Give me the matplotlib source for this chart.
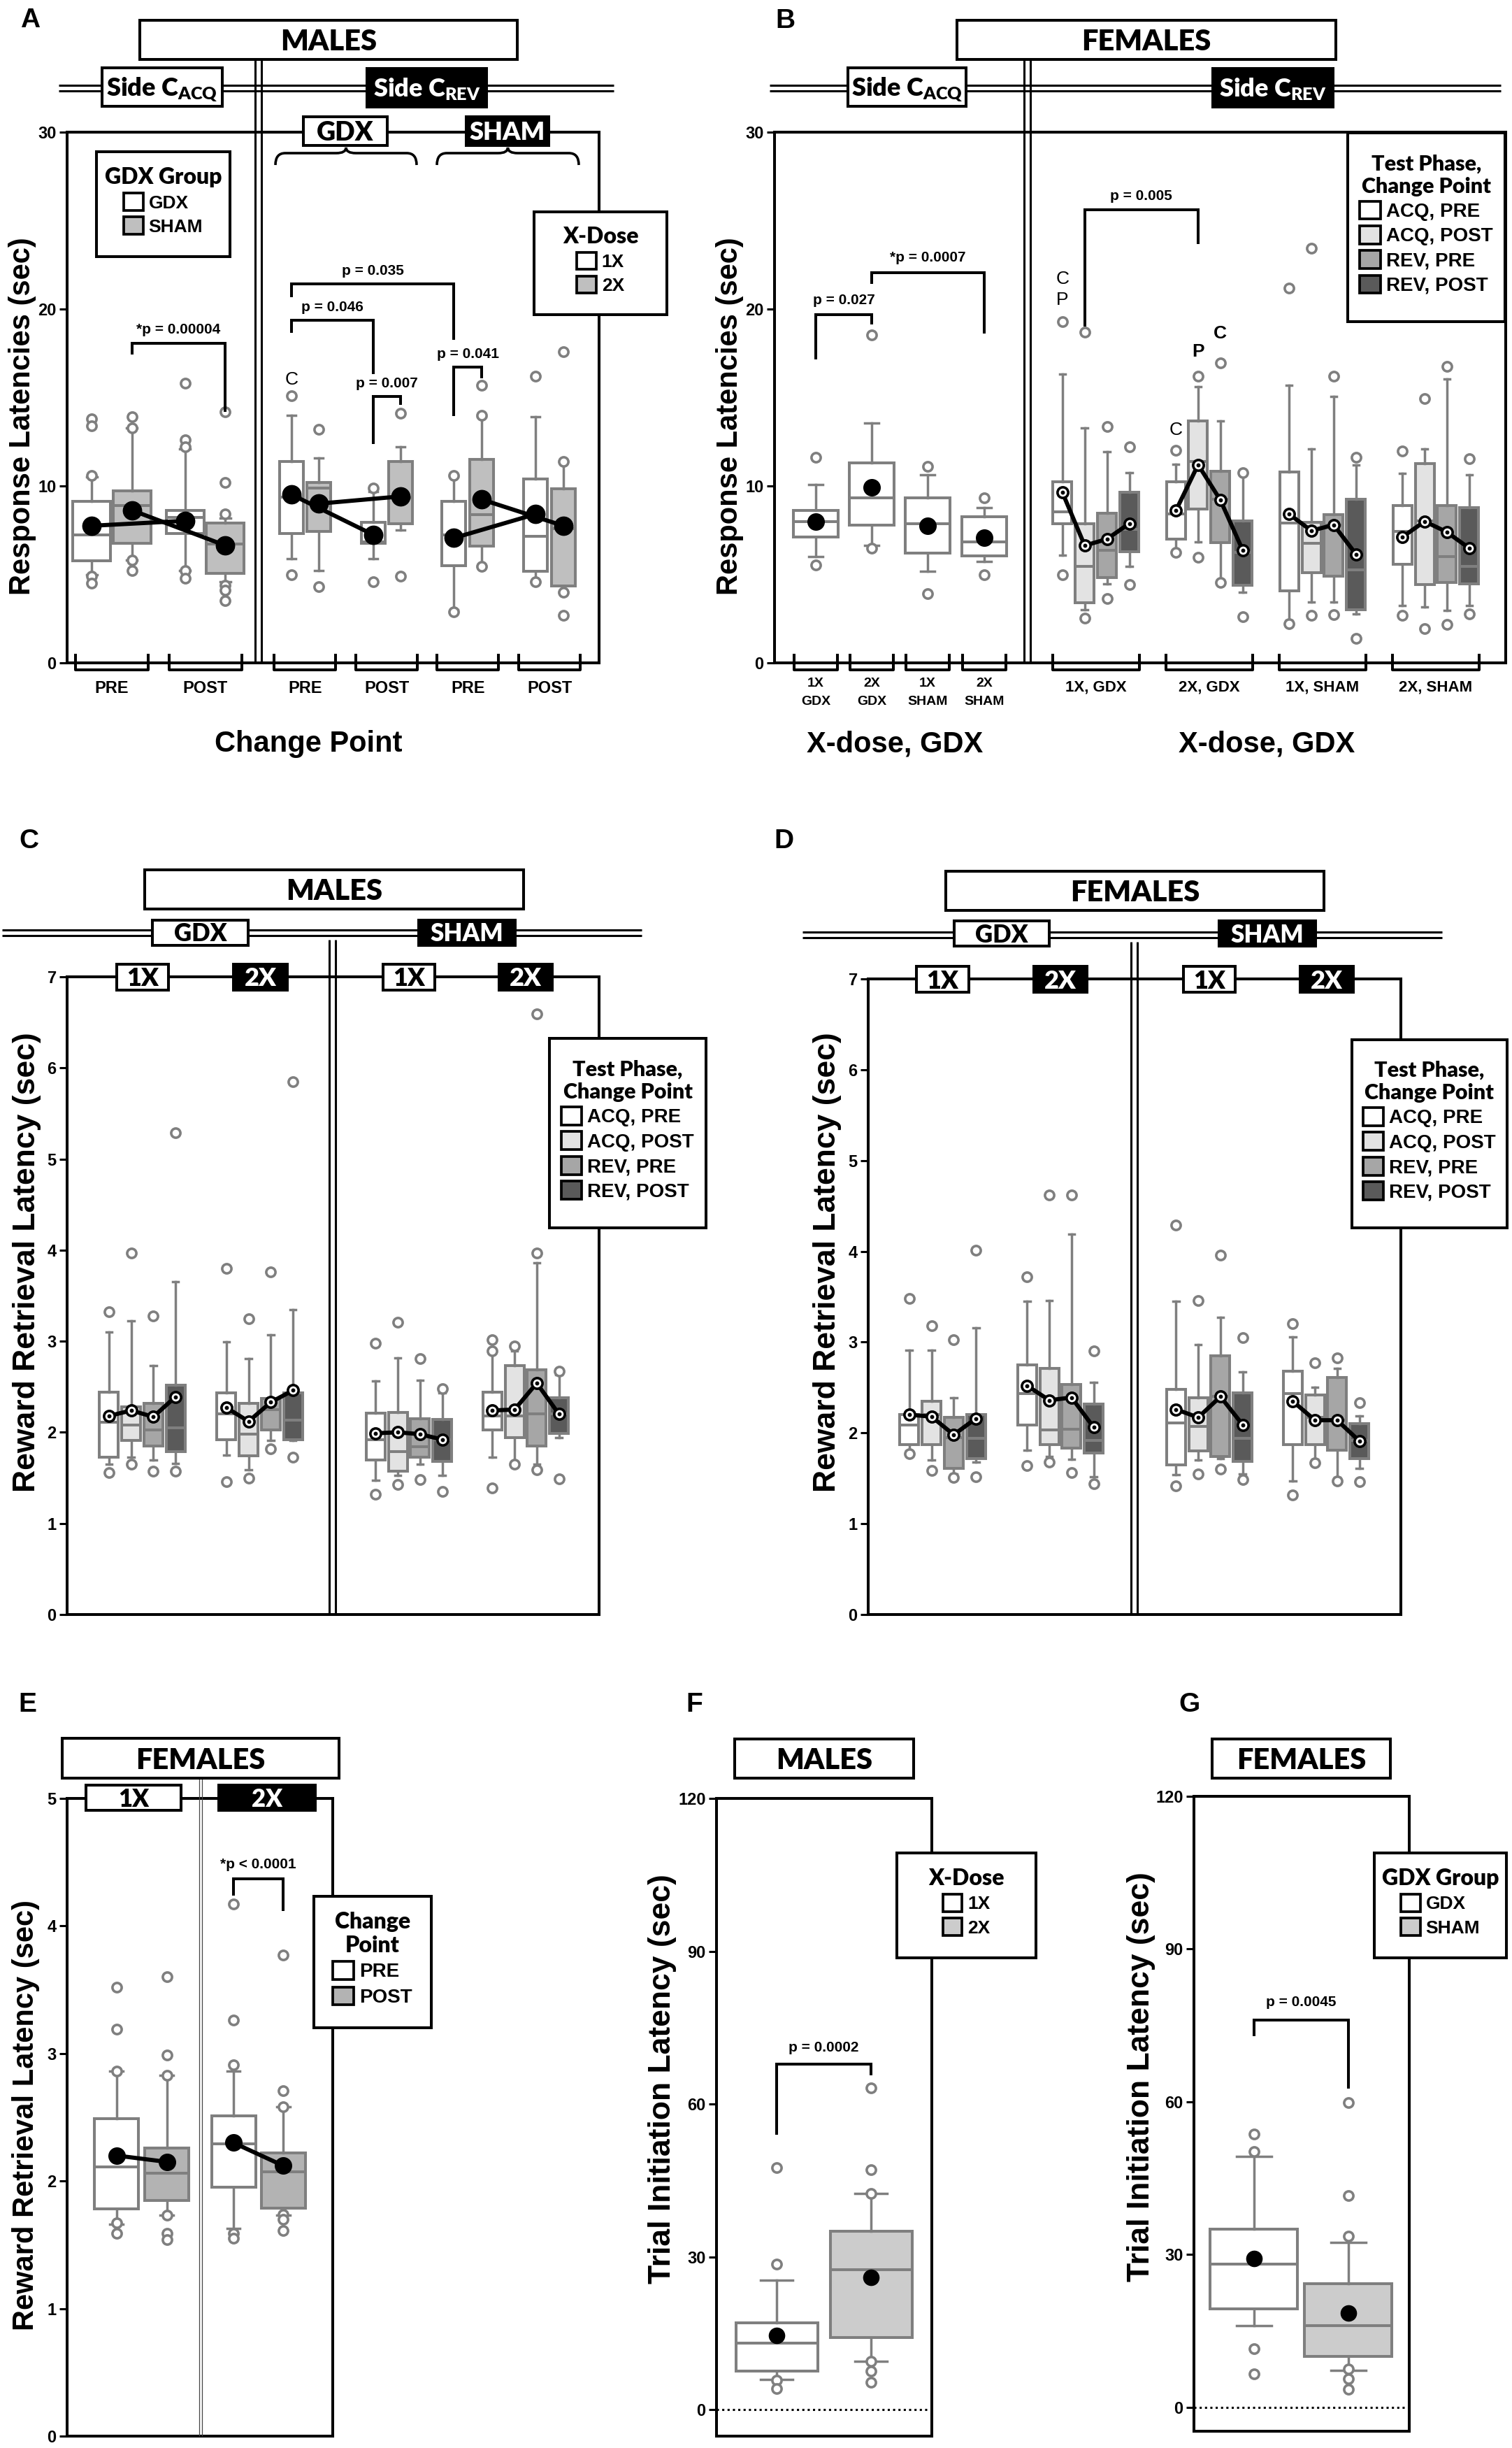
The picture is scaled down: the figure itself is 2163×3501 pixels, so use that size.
import matplotlib
matplotlib.use("Agg")
import matplotlib.pyplot as plt
from matplotlib.patches import Rectangle, Patch, PathPatch
from matplotlib.path import Path
from matplotlib.legend import Legend
from matplotlib.font_manager import FontProperties

W, H = 2163, 3501
plt.rcParams['font.family'] = ['Liberation Sans', 'DejaVu Sans']
plt.rcParams['font.weight'] = 'bold'
plt.rcParams['mathtext.default'] = 'regular'

# ======================= DATA =======================
# Panel A  (MALES, response latencies)  order: ACQ[GDX PRE, SHAM PRE, GDX POST, SHAM POST],
# REV[GDX: PRE 1X, PRE 2X, POST 1X, POST 2X ; SHAM: PRE 1X, PRE 2X, POST 1X, POST 2X]
A_q1 = [5.78, 6.75, 7.31, 5.04, 7.33, 7.42, 6.75, 7.86, 5.51, 6.62, 5.18, 4.35]
A_med = [7.25, 8.91, 8.22, 6.70, 9.38, 9.88, 6.84, 9.33, 7.25, 8.36, 7.17, 7.58]
A_q3 = [9.13, 9.74, 8.63, 7.92, 11.40, 10.21, 7.94, 11.40, 9.13, 11.49, 10.38, 9.83]
A_lo = [5.0, 5.8, 5.2, 4.6, 5.9, 5.2, 5.9, 7.5, 3.0, 5.45, 4.6, 4.0]
A_hi = [10.5, 13.3, 12.1, 8.2, 14.0, 11.6, 9.7, 12.2, 10.5, 13.9, 13.9, 11.4]
A_out = [[13.8, 13.4, 10.6, 4.9, 4.5], [13.9, 13.3, 5.8, 5.2], [15.8, 12.6, 12.2, 5.2, 4.8],
         [14.2, 10.2, 8.4, 4.4, 4.1, 3.5], [15.1, 5.0], [13.2, 4.3], [9.9, 4.6], [14.1, 4.9],
         [10.6, 2.9], [15.7, 14.0, 5.45], [16.2, 4.6], [17.6, 11.4, 4.0, 2.7]]
A_mean = [7.75, 8.63, 8.03, 6.64, 9.52, 9.00, 7.25, 9.41, 7.06, 9.24, 8.41, 7.75]
A_xlabels = ['PRE', 'POST', 'PRE', 'POST', 'PRE', 'POST']
A_sig = [(1, 3, 18.05, 17.44, 14.17, '*p = 0.00004', 18.85),
         (4, 8, 21.42, 20.67, 18.27, 'p = 0.035', 22.15),
         (4, 6, 19.35, 18.65, 16.33, 'p = 0.046', 20.10),
         (6, 7, 15.06, 12.37, 14.59, 'p = 0.007', 15.80),
         (8, 9, 16.72, 13.95, 16.10, 'p = 0.041', 17.45)]

# Panel B (FEMALES, response latencies): ACQ[1X GDX, 2X GDX, 1X SHAM, 2X SHAM],
# REV groups [1X GDX, 2X GDX, 1X SHAM, 2X SHAM] x phases [ACQ PRE, ACQ POST, REV PRE, REV POST]
B_q1 = [7.11, 7.80, 6.20, 6.06, 7.88, 3.41, 4.83, 6.30, 6.99, 8.69, 6.79, 4.39,
        4.07, 5.09, 4.90, 3.02, 5.59, 4.43, 4.54, 4.48]
B_med = [8.00, 9.33, 7.86, 6.84, 8.54, 5.45, 6.37, 7.55, 8.41, 11.37, 9.26, 6.24,
         7.90, 6.75, 7.80, 5.26, 7.44, 8.03, 6.00, 5.45]
B_q3 = [8.63, 11.32, 9.33, 8.28, 10.25, 7.88, 8.45, 9.63, 10.25, 13.66, 10.84, 8.01,
        10.79, 7.94, 8.36, 9.24, 8.91, 11.27, 8.91, 8.77]
B_lo = [6.00, 6.64, 5.18, 5.73, 6.10, 3.01, 4.46, 5.45, 6.37, 6.83, 4.72, 4.00,
        2.40, 3.43, 3.43, 2.77, 3.24, 3.16, 2.96, 3.24]
B_hi = [10.07, 13.56, 10.63, 8.77, 16.33, 13.28, 11.92, 10.74, 11.24, 15.60, 13.67, 10.71,
        15.69, 12.09, 15.06, 11.18, 10.71, 12.09, 16.05, 10.63]
B_out = [[11.62, 5.54], [18.52, 6.48], [11.10, 3.93], [9.33, 4.98],
         [19.29, 4.99], [18.68, 2.53], [13.37, 3.63], [12.23, 4.42],
         [12.00, 6.24], [16.20, 5.95], [16.94, 4.55], [10.76, 2.62],
         [21.18, 2.21], [23.44, 2.68], [16.20, 2.74], [11.62, 1.38],
         [11.96, 2.68], [14.95, 1.94], [16.75, 2.19], [11.54, 2.77]]
B_mean = [8.00, 9.94, 7.75, 7.06, 9.63, 6.63, 7.00, 7.88, 8.60, 11.20, 9.20, 6.37,
          8.41, 7.47, 7.80, 6.14, 7.11, 8.00, 7.39, 6.48]
B_left_labels = [('1X', 'GDX'), ('2X', 'GDX'), ('1X', 'SHAM'), ('2X', 'SHAM')]
B_right_labels = ['1X, GDX', '2X, GDX', '1X, SHAM', '2X, SHAM']
B_sig = [(0, 1, 19.70, 17.16, 19.15, 'p = 0.027', 20.50),
         (1, 3, 22.06, 21.42, 18.60, '*p = 0.0007', 22.90),
         (5, 9, 25.60, 19.00, 23.67, 'p = 0.005', 26.40)]
B_marks = [(4, 21.7, 'C', 'normal'), (4, 20.5, 'P', 'normal'), (8, 13.15, 'C', 'normal'),
           (9, 17.6, 'P', 'bold'), (10, 18.6, 'C', 'bold')]

# Panel C (MALES, reward retrieval): groups [GDX 1X, GDX 2X, SHAM 1X, SHAM 2X] x 4 phases
C_q1 = [1.73, 1.91, 1.85, 1.79, 1.92, 1.74, 2.03, 1.92, 1.70, 1.57, 1.73, 1.68, 2.03, 1.94, 1.85, 1.99]
C_med = [2.11, 2.08, 2.03, 2.05, 2.20, 1.98, 2.25, 2.13, 1.92, 1.79, 1.84, 1.92, 2.18, 2.18, 2.20, 2.20]
C_q3 = [2.44, 2.28, 2.32, 2.52, 2.43, 2.32, 2.37, 2.43, 2.21, 2.22, 2.15, 2.14, 2.44, 2.73, 2.69, 2.38]
C_lo = [1.65, 1.73, 1.70, 1.66, 1.75, 1.59, 1.91, 1.91, 1.47, 1.53, 1.65, 1.53, 1.73, 1.68, 1.65, 1.94]
C_hi = [3.10, 3.22, 2.73, 3.65, 2.99, 2.81, 3.07, 3.35, 2.56, 2.82, 2.57, 2.43, 2.89, 2.89, 3.86, 2.63]
C_out = [[3.32, 1.56], [3.97, 1.65], [3.28, 1.57], [5.29, 1.57],
         [3.80, 1.46], [3.25, 1.50], [3.76, 1.82], [5.85, 1.73],
         [2.98, 1.32], [3.21, 1.43], [2.81, 1.48], [2.48, 1.35],
         [3.02, 2.89, 1.39], [2.95, 1.65], [6.59, 3.97, 1.59], [2.67, 1.49]]
C_mean = [2.18, 2.24, 2.17, 2.39, 2.27, 2.12, 2.33, 2.46, 1.99, 2.00, 1.98, 1.92, 2.24, 2.25, 2.54, 2.20]

# Panel D (FEMALES, reward retrieval)
D_q1 = [1.87, 1.87, 1.61, 1.72, 2.09, 1.87, 1.83, 1.78, 1.65, 1.80, 1.74, 1.69, 1.87, 1.87, 1.81, 1.72]
D_med = [2.09, 2.20, 1.95, 1.94, 2.43, 2.03, 2.04, 1.92, 2.11, 2.07, 2.40, 1.94, 2.43, 2.17, 2.14, 1.92]
D_q3 = [2.20, 2.35, 2.17, 2.20, 2.75, 2.71, 2.53, 2.32, 2.48, 2.39, 2.85, 2.44, 2.68, 2.42, 2.61, 2.10]
D_lo = [1.80, 1.70, 1.55, 1.68, 1.81, 1.74, 1.71, 1.52, 1.54, 1.70, 1.72, 1.55, 1.47, 1.71, 1.51, 1.61]
D_hi = [2.91, 2.91, 2.39, 3.16, 3.45, 3.46, 4.19, 2.56, 3.45, 2.97, 3.27, 2.67, 3.06, 2.50, 2.71, 2.19]
D_out = [[3.48, 1.77], [3.18, 1.59], [3.03, 1.51], [4.01, 1.52],
         [3.72, 1.64], [4.62, 1.68], [4.62, 1.56], [2.90, 1.44],
         [4.29, 1.42], [3.46, 1.55], [3.96, 1.60], [3.05, 1.49],
         [3.20, 1.32], [2.77, 1.67], [2.83, 1.47], [2.33, 1.46]]
D_mean = [2.20, 2.18, 1.98, 2.16, 2.52, 2.36, 2.39, 2.06, 2.26, 2.17, 2.40, 2.09, 2.35, 2.14, 2.14, 1.91]

# Panel E (FEMALES, reward retrieval by change point): [1X PRE, 1X POST, 2X PRE, 2X POST]
E_q1 = [1.78, 1.85, 1.95, 1.79]
E_med = [2.11, 2.06, 2.29, 2.07]
E_q3 = [2.49, 2.26, 2.51, 2.22]
E_lo = [1.66, 1.73, 1.63, 1.73]
E_hi = [2.86, 2.83, 2.86, 2.58]
E_out = [[3.52, 3.19, 2.86, 1.67, 1.59], [3.60, 2.99, 2.83, 1.73, 1.59, 1.54],
         [4.17, 3.26, 2.91, 1.59, 1.55], [3.77, 2.71, 2.58, 1.74, 1.70, 1.61]]
E_mean = [2.20, 2.15, 2.30, 2.12]
E_sig = [(2, 3, 4.37, 4.24, 4.12, '*p < 0.0001', 4.48)]

# Panel F (MALES, trial initiation): [1X, 2X]
F_q1 = [7.55, 14.2]
F_med = [13.1, 27.45]
F_q3 = [17.06, 35.0]
F_lo = [5.9, 9.5]
F_hi = [25.4, 42.5]
F_out = [[47.5, 28.6, 5.8, 4.1], [63.1, 47.1, 42.5, 9.5, 7.55, 5.4]]
F_mean = [14.6, 25.9]
F_sig = [(0, 1, 67.8, 53.9, 65.7, 'p = 0.0002', 71.0)]

# Panel G (FEMALES, trial initiation): [GDX, SHAM]
G_q1 = [19.35, 10.0]
G_med = [28.2, 16.1]
G_q3 = [35.07, 24.26]
G_lo = [16.1, 7.27]
G_hi = [49.3, 32.4]
G_out = [[53.7, 50.3, 11.5, 6.6], [59.9, 41.6, 33.6, 7.6, 5.6, 3.6]]
G_mean = [29.2, 18.57]
G_sig = [(0, 1, 76.1, 72.9, 62.6, 'p = 0.0045', 79.5)]

PHASE_LABELS = ['ACQ, PRE', 'ACQ, POST', 'REV, PRE', 'REV, POST']

# ======================= STYLE =======================
EDGE = '#7f7f7f'
WHITE = 'white'
GRAY_A = '#bfbfbf'
GRAY_E = '#b3b3b3'
GRAY_FG = '#cccccc'
PHASE_FACES = ['white', '#e3e3e3', '#a6a6a6', '#5a5a5a']
CAL = 'Lato'
CAL_W = 'heavy'
ARI = 'Liberation Sans'
LW = 2.9

fig = plt.figure(figsize=(W / 100, H / 100), dpi=100)
ov = fig.add_axes([0, 0, 1, 1], zorder=10)
ov.set_xlim(0, W)
ov.set_ylim(H, 0)
ov.axis('off')
ov.patch.set_alpha(0)


def px(size):
    return size * 100 / 72.0


def ctext(x, yc, s, size, family=ARI, color='black', weight='bold', cap=0.716, **kw):
    ov.text(x, yc + cap * px(size) / 2, s, ha='center', va='baseline', fontsize=size,
            family=family, color=color, weight=weight, zorder=6, **kw)


def label_box(x0, y0, x1, y1, s, dark=False, size=30):
    ov.add_patch(Rectangle((x0, y0), x1 - x0, y1 - y0, facecolor='black' if dark else 'white',
                           edgecolor='black', linewidth=LW, zorder=4))
    ctext((x0 + x1) / 2, (y0 + y1) / 2, s, size, family=CAL, color='white' if dark else 'black',
          weight=CAL_W, cap=0.72)


def dline_h(y, x0, x1, gap=8, lw=2.2, color='black'):
    for d in (-gap / 2, gap / 2):
        ov.plot([x0, x1], [y + d, y + d], color=color, lw=lw, zorder=2, solid_capstyle='butt')


def dline_v(x, y0, y1, gap=9, lw=2.2, color='black'):
    for d in (-gap / 2, gap / 2):
        ov.plot([x + d, x + d], [y0, y1], color=color, lw=lw, zorder=2, solid_capstyle='butt')


def brace(x0, x1, ytop, ybot, r=14):
    xc = (x0 + x1) / 2
    verts = [(x0, ybot), (x0, ytop), (x0 + r, ytop), (xc - r, ytop), (xc, ytop), (xc, ytop - 8),
             (xc, ytop), (xc + r, ytop), (x1 - r, ytop), (x1, ytop), (x1, ybot)]
    codes = [Path.MOVETO, Path.CURVE3, Path.CURVE3, Path.LINETO, Path.CURVE3, Path.CURVE3,
             Path.CURVE3, Path.CURVE3, Path.LINETO, Path.CURVE3, Path.CURVE3]
    ov.add_patch(PathPatch(Path(verts, codes), facecolor='none', edgecolor='black', lw=2.6, zorder=5))


def u_bracket(x0, x1, yspine):
    ov.plot([x0, x0, x1, x1], [yspine - 13, yspine + 10, yspine + 10, yspine - 13], color='black',
            lw=2.9, solid_joinstyle='round', solid_capstyle='butt', zorder=5)


def make_ax(box):
    l, t, r, b = box
    ax = fig.add_axes([l / W, 1 - b / H, (r - l) / W, (b - t) / H])
    ax.set_xlim(l, r)
    ax.set_xticks([])
    ax.patch.set_alpha(0)
    for s in ax.spines.values():
        s.set_linewidth(LW)
    ax.tick_params(axis='y', length=8, width=2.2, labelsize=17, pad=3)
    return ax


def ylab(ax, box, text, size, xr, yc):
    l, t, r, b = box
    ax.set_ylabel(text, fontsize=size, fontweight='bold', family=ARI)
    ax.yaxis.set_label_coords((xr - l) / (r - l), 1 - (yc - t) / (b - t))


def boxes(ax, q1, med, q3, lo, hi, out, pos, width, faces, capfrac=0.3):
    stats = [dict(q1=a, med=m, q3=c, whislo=d, whishi=e, fliers=f)
             for a, m, c, d, e, f in zip(q1, med, q3, lo, hi, out)]
    bp = ax.bxp(stats, positions=pos, widths=width, capwidths=width * capfrac, patch_artist=True,
                manage_ticks=False, zorder=3,
                boxprops=dict(edgecolor=EDGE, linewidth=LW),
                medianprops=dict(color=EDGE, linewidth=LW, solid_capstyle='butt'),
                whiskerprops=dict(color=EDGE, linewidth=2.5),
                capprops=dict(color=EDGE, linewidth=2.5),
                flierprops=dict(marker='o', markersize=9.5, markerfacecolor='white',
                                markeredgecolor=EDGE, markeredgewidth=2.6, linestyle='none'))
    for p, fc in zip(bp['boxes'], faces):
        p.set_facecolor(fc)
    return bp


def sig(ax, pos, items, size=15):
    for i, j, top, yl, yr, txt, yt in items:
        x0, x1 = pos[i], pos[j]
        ax.plot([x0, x0, x1, x1], [yl, top, top, yr], color='black', lw=LW,
                solid_joinstyle='miter', solid_capstyle='butt', zorder=6, clip_on=False)
        ax.text((x0 + x1) / 2, yt, txt, ha='center', va='center', fontsize=size, zorder=6)


def ring_means(ax, pos, mean, n=4):
    for g in range(0, len(pos), n):
        ax.plot(pos[g:g + n], mean[g:g + n], '-', color='black', lw=4.3, zorder=6)
    ax.plot(pos, mean, 'o', ms=11, mfc='white', mec='black', mew=2.6, zorder=7, linestyle='none')
    ax.plot(pos, mean, 'o', ms=3.2, color='black', zorder=8, linestyle='none')


def legend(title, labels, faces, frame, tsize, lsize, dy=-4, **kw):
    x0, y0, x1, y1 = frame
    ov.add_patch(Rectangle((x0, y0), x1 - x0, y1 - y0, facecolor='white', edgecolor='black',
                           linewidth=LW, zorder=7))
    handles = [Patch(facecolor=f, edgecolor='black', linewidth=2.7) for f in faces]
    opts = dict(handlelength=1.05, handleheight=1.05, handletextpad=0.3, labelspacing=0.3)
    opts.update(kw)
    leg = Legend(ov, handles, labels, title=title, loc='center',
                 bbox_to_anchor=((x0 + x1) / 2, (y0 + y1) / 2 + dy),
                 bbox_transform=ov.transData, borderaxespad=0, borderpad=0, frameon=False,
                 prop=FontProperties(family=ARI, weight='bold', size=lsize),
                 title_fontproperties=FontProperties(family=CAL, weight=CAL_W, size=tsize),
                 **opts)
    leg.get_title().set_multialignment('center')
    leg.set_zorder(8)
    ov.add_artist(leg)
    return leg


def panel_letter(x, yc, s):
    ctext(x, yc, s, 28)


# ======================= PANEL A =======================
boxA = (96, 189, 857, 948)
A_left_groups = [160.0, 293.5]
A_right_groups = [436.4, 553.4, 669.2, 786.1]
A_pos = [g + s * 28.6 for g in A_left_groups for s in (-1, 1)] + \
        [g + s * 19.7 for g in A_right_groups for s in (-1, 1)]
axA = make_ax(boxA)
axA.set_ylim(0, 30)
axA.set_yticks([0, 10, 20, 30])
facesA = [WHITE, GRAY_A] * 6
boxes(axA, A_q1[:4], A_med[:4], A_q3[:4], A_lo[:4], A_hi[:4], A_out[:4], A_pos[:4], 54, facesA[:4], 0.28)
boxes(axA, A_q1[4:], A_med[4:], A_q3[4:], A_lo[4:], A_hi[4:], A_out[4:], A_pos[4:], 34, facesA[4:], 0.35)
for i, j in [(0, 2), (1, 3), (4, 6), (5, 7), (8, 10), (9, 11)]:
    axA.plot([A_pos[i], A_pos[j]], [A_mean[i], A_mean[j]], '-', color='black', lw=4.3, zorder=6)
axA.plot(A_pos, A_mean, 'o', color='black', ms=19, zorder=7, linestyle='none')
sig(axA, A_pos, A_sig)
axA.text(A_pos[4], 16.0, 'C', ha='center', va='center', fontsize=19, weight='normal')
ylab(axA, boxA, 'Response Latencies (sec)', 30, 52, 595)

panel_letter(43, 25, 'A')
dline_v(369.5, 85, 948)
dline_h(125.5, 84, 878)
label_box(200, 29, 740, 85, 'MALES')
label_box(146, 97, 318, 152, r'Side C$_{\mathregular{ACQ}}$', size=26)
label_box(525, 98, 696, 153, r'Side C$_{\mathregular{REV}}$', dark=True, size=26)
label_box(434, 167, 554, 208, 'GDX', size=27)
label_box(667, 167, 785, 208, 'SHAM', dark=True, size=26)
brace(394, 596, 219, 236)
brace(625, 828, 219, 236)
A_groups_all = A_left_groups + A_right_groups
A_half = [52, 52, 44, 44, 44, 44]
for g, hw, lab in zip(A_groups_all, A_half, A_xlabels):
    u_bracket(g - hw, g + hw, boxA[3])
    ov.text(g, 991, lab, ha='center', va='baseline', fontsize=17, zorder=6)
ov.text(441, 1075, 'Change Point', ha='center', va='baseline', fontsize=30)
legend('GDX Group', ['GDX', 'SHAM'], [WHITE, GRAY_A], (138, 217, 329, 367), 23, 19)
legend('X-Dose', ['1X', '2X'], [WHITE, GRAY_A], (764, 303, 954, 450), 23, 19)

# ======================= PANEL B =======================
boxB = (1108, 189, 2154, 948)
B_left_pos = [1167, 1247, 1327, 1408]
B_right_groups = [1567.7, 1729.9, 1892.0, 2054.0]
B_pos = B_left_pos + [g + k * 31.9 for g in B_right_groups for k in (-1.5, -0.5, 0.5, 1.5)]
axB = make_ax(boxB)
axB.set_ylim(0, 30)
axB.set_yticks([0, 10, 20, 30])
boxes(axB, B_q1[:4], B_med[:4], B_q3[:4], B_lo[:4], B_hi[:4], B_out[:4], B_pos[:4], 64, [WHITE] * 4, 0.3)
boxes(axB, B_q1[4:], B_med[4:], B_q3[4:], B_lo[4:], B_hi[4:], B_out[4:], B_pos[4:], 27,
      PHASE_FACES * 4, 0.32)
axB.plot(B_pos[:4], B_mean[:4], 'o', color='black', ms=17, zorder=7, linestyle='none')
ring_means(axB, B_pos[4:], B_mean[4:])
sig(axB, B_pos, B_sig)
for i, yv, s, wt in B_marks:
    axB.text(B_pos[i], yv, s, ha='center', va='center', fontsize=19, weight=wt)
ylab(axB, boxB, 'Response Latencies (sec)', 30, 1064, 595)

panel_letter(1123, 26, 'B')
dline_v(1469.5, 85, 948)
dline_h(125.5, 1101, 2147)
label_box(1369, 29, 1911, 85, 'FEMALES')
label_box(1213, 97, 1382, 152, r'Side C$_{\mathregular{ACQ}}$', size=26)
label_box(1735, 98, 1907, 153, r'Side C$_{\mathregular{REV}}$', dark=True, size=26)
for x, (l1, l2) in zip(B_left_pos, B_left_labels):
    u_bracket(x - 31, x + 31, boxB[3])
    ov.text(x, 982, l1, ha='center', va='baseline', fontsize=14, zorder=6)
    ov.text(x, 1008, l2, ha='center', va='baseline', fontsize=14, zorder=6)
for g, lab in zip(B_right_groups, B_right_labels):
    u_bracket(g - 62, g + 62, boxB[3])
    ov.text(g, 988, lab, ha='center', va='baseline', fontsize=16, zorder=6)
ov.text(1280, 1076, 'X-dose, GDX', ha='center', va='baseline', fontsize=30)
ov.text(1812, 1076, 'X-dose, GDX', ha='center', va='baseline', fontsize=30)
legend('Test Phase,\nChange Point', PHASE_LABELS, PHASE_FACES, (1928, 190, 2153, 460), 22, 20,
       labelspacing=0.25)

# ======================= PANEL C =======================
boxC = (96, 1397, 857, 2309)
C_groups = [203.5, 371.5, 585.0, 752.0]
C_pos = [g + k * 31.7 for g in C_groups for k in (-1.5, -0.5, 0.5, 1.5)]
axC = make_ax(boxC)
axC.set_ylim(0, 7)
axC.set_yticks(range(0, 8))
boxes(axC, C_q1, C_med, C_q3, C_lo, C_hi, C_out, C_pos, 27, PHASE_FACES * 4, 0.32)
ring_means(axC, C_pos, C_mean)
ylab(axC, boxC, 'Reward Retrieval Latency (sec)', 32, 59, 1805)

panel_letter(41, 1199, 'C')
label_box(207, 1244, 749, 1300, 'MALES')
dline_h(1333.5, 3, 918)
dline_v(475.5, 1344, 2309)
label_box(218, 1316, 355, 1352, 'GDX', size=25)
label_box(599, 1316, 737, 1352, 'SHAM', dark=True, size=25)
label_box(167, 1379, 241, 1416, '1X', size=26)
label_box(334, 1379, 411, 1416, '2X', dark=True, size=26)
label_box(548, 1379, 622, 1416, '1X', size=26)
label_box(714, 1379, 790, 1416, '2X', dark=True, size=26)
legend('Test Phase,\nChange Point', PHASE_LABELS, PHASE_FACES, (786, 1485, 1010, 1756), 22, 20,
       labelspacing=0.25)

# ======================= PANEL D =======================
boxD = (1242, 1400, 2004, 2309)
D_groups = [1348.5, 1517.0, 1730.0, 1897.0]
D_pos = [g + k * 31.8 for g in D_groups for k in (-1.5, -0.5, 0.5, 1.5)]
axD = make_ax(boxD)
axD.set_ylim(0, 7)
axD.set_yticks(range(0, 8))
boxes(axD, D_q1, D_med, D_q3, D_lo, D_hi, D_out, D_pos, 27, PHASE_FACES * 4, 0.32)
ring_means(axD, D_pos, D_mean)
ylab(axD, boxD, 'Reward Retrieval Latency (sec)', 32, 1204, 1805)

panel_letter(1121, 1199, 'D')
label_box(1353, 1246, 1894, 1302, 'FEMALES')
dline_h(1336.5, 1148, 2063)
dline_v(1622.5, 1347, 2309)
label_box(1365, 1317, 1501, 1353, 'GDX', size=25)
label_box(1744, 1317, 1882, 1353, 'SHAM', dark=True, size=25)
label_box(1311, 1382, 1386, 1419, '1X', size=26)
label_box(1479, 1382, 1555, 1419, '2X', dark=True, size=26)
label_box(1693, 1382, 1767, 1419, '1X', size=26)
label_box(1860, 1382, 1936, 1419, '2X', dark=True, size=26)
legend('Test Phase,\nChange Point', PHASE_LABELS, PHASE_FACES, (1934, 1487, 2156, 1756), 22, 20,
       labelspacing=0.25)

# ======================= PANEL E =======================
boxE = (96, 2572, 476, 3484)
E_pos = [166.5, 238.8, 334.0, 405.3]
axE = make_ax(boxE)
axE.set_ylim(0, 5)
axE.set_yticks(range(0, 6))
boxes(axE, E_q1, E_med, E_q3, E_lo, E_hi, E_out, E_pos, 63, [WHITE, GRAY_E] * 2, 0.3)
for i, j in [(0, 1), (2, 3)]:
    axE.plot([E_pos[i], E_pos[j]], [E_mean[i], E_mean[j]], '-', color='black', lw=4.3, zorder=6)
axE.plot(E_pos, E_mean, 'o', color='black', ms=17, zorder=7, linestyle='none')
sig(axE, E_pos, E_sig)
ylab(axE, boxE, 'Reward Retrieval Latency (sec)', 30, 57, 3025)

panel_letter(39, 2434, 'E')
dline_v(287, 2543, 3484, gap=4, lw=0.9, color='#444444')
label_box(89, 2486, 485, 2543, 'FEMALES')
label_box(123, 2553, 259, 2589, '1X', size=25)
label_box(313, 2553, 451, 2589, '2X', dark=True, size=25)
legend('Change\nPoint', ['PRE', 'POST'], [WHITE, GRAY_E], (449, 2712, 617, 2900), 23, 20)

# ======================= PANEL F =======================
boxF = (1025, 2572, 1333, 3484)
F_pos = [1111, 1246]
axF = make_ax(boxF)
axF.set_ylim(-5.2, 120)
axF.set_yticks([0, 30, 60, 90, 120])
axF.axhline(0, color='black', lw=2.2, ls=(0, (1, 1.5)), zorder=1)
boxes(axF, F_q1, F_med, F_q3, F_lo, F_hi, F_out, F_pos, 117, [WHITE, GRAY_FG], 0.4)
axF.plot(F_pos, F_mean, 'o', color='black', ms=16, zorder=7, linestyle='none')
sig(axF, F_pos, F_sig)
ylab(axF, boxF, 'Trial Initiation Latency (sec)', 32, 968, 2973)

panel_letter(993, 2434, 'F')
label_box(1051, 2487, 1307, 2543, 'MALES')
legend('X-Dose', ['1X', '2X'], [WHITE, GRAY_FG], (1283, 2650, 1482, 2800), 23, 19)

# ======================= PANEL G =======================
boxG = (1708, 2569, 2016, 3477)
G_pos = [1794, 1929]
axG = make_ax(boxG)
axG.set_ylim(-4.67, 120)
axG.set_yticks([0, 30, 60, 90, 120])
axG.axhline(0, color='black', lw=2.2, ls=(0, (1, 1.5)), zorder=1)
boxes(axG, G_q1, G_med, G_q3, G_lo, G_hi, G_out, G_pos, 125, [WHITE, GRAY_FG], 0.4)
axG.plot(G_pos, G_mean, 'o', color='black', ms=16, zorder=7, linestyle='none')
sig(axG, G_pos, G_sig)
ylab(axG, boxG, 'Trial Initiation Latency (sec)', 32, 1653, 2970)

panel_letter(1702, 2434, 'G')
label_box(1734, 2487, 1989, 2543, 'FEMALES')
legend('GDX Group', ['GDX', 'SHAM'], [WHITE, GRAY_FG], (1966, 2650, 2155, 2800), 23, 19)

fig.savefig('out.png', dpi=100, facecolor='white')
